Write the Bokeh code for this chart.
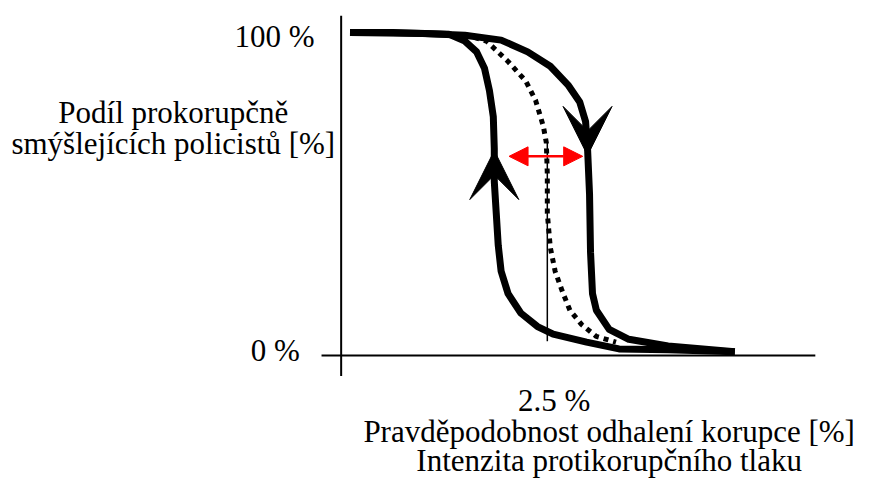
from bokeh.plotting import figure
from bokeh.models import Range1d, Arrow, VeeHead, NormalHead
from bokeh.core.properties import value
from bokeh.embed import file_html
from bokeh.resources import INLINE

# x: probability of detection [%], y: share of pro-corruption officers [%]
falling_x = [0.107, 0.988, 1.5, 1.940, 2.262, 2.536, 2.750, 2.893, 2.964, 2.988,
             3.012, 3.024, 3.048, 3.095, 3.25, 3.488, 3.964, 4.774]
falling_y = [100, 99.7, 99.1, 97.6, 93.9, 89.4, 83.6, 78.2, 72.1, 63.6,
             49.4, 31.2, 18.2, 13.0, 7.0, 3.9, 1.8, 0]

rising_x = [4.774, 3.964, 3.369, 2.976, 2.571, 2.381, 2.179, 2.024, 1.940, 1.905,
            1.881, 1.857, 1.857, 1.845, 1.798, 1.738, 1.643, 1.5, 1.310, 0.631, 0.107]
rising_y = [0, 0.6, 0.9, 3.0, 5.5, 7.9, 12.1, 18.2, 25.2, 33.3,
            43.3, 53.3, 63.6, 73.6, 81.8, 88.8, 93.9, 97.3, 99.4, 100, 100]

middle_x = [1.5, 1.762, 2.024, 2.238, 2.357, 2.452, 2.488, 2.5, 2.5, 2.536,
            2.595, 2.679, 2.774, 2.917, 3.095, 3.333]
middle_y = [99.4, 97.3, 90.9, 84.8, 78.8, 70.6, 65.5, 55.5, 43.3, 32.7,
            25.2, 19.1, 13.0, 8.5, 4.8, 3.0]

threshold_x = [2.5, 2.5]
threshold_y = [65.5, 3.3]

up_arrow = dict(x0=1.857, y0=40, x1=1.857, y1=63.0)
down_arrow = dict(x0=2.988, y0=80, x1=2.988, y1=61.5)
gap_arrow = dict(x0=2.036, x1=2.929, y=61.2)

y_tick_labels = ["100 %", "0 %"]
x_tick_label = "2.5 %"
x_title = ["Pravděpodobnost odhalení korupce [%]", "Intenzita protikorupčního tlaku"]
y_title = ["Podíl prokorupčně", "smýšlejících policistů [%]"]

FONT = value("Liberation Serif")
FS = value("31px")

p = figure(width=861, height=479, output_backend="svg", toolbar_location=None,
           x_range=Range1d(-4.131, 6.310), y_range=Range1d(-40.0, 110.0),
           x_axis_type=None, y_axis_type=None, min_border=0)
p.grid.visible = False
p.outline_line_color = None
p.background_fill_color = "white"
p.border_fill_color = "white"

# axes lines
p.line([0, 0], [105.2, -7.6], line_color="black", line_width=2)
p.line([-0.238, 5.75], [-1.2, -1.2], line_color="black", line_width=2)

# curves
p.line(falling_x, falling_y, line_color="black", line_width=7, line_join="round")
p.line(rising_x, rising_y, line_color="black", line_width=7, line_join="round")
p.line(middle_x, middle_y, line_color="black", line_width=5, line_dash="5 5")
p.line(threshold_x, threshold_y, line_color="black", line_width=1.5)

# direction arrows
for a in (up_arrow, down_arrow):
    p.add_layout(Arrow(end=VeeHead(size=49, fill_color="black", line_color="black", line_width=1),
                       x_start=a["x0"], y_start=a["y0"], x_end=a["x1"], y_end=a["y1"],
                       line_color=None))

p.add_layout(Arrow(start=NormalHead(size=19, fill_color="red", line_color="red"),
                   end=NormalHead(size=19, fill_color="red", line_color="red"),
                   x_start=gap_arrow["x0"], y_start=gap_arrow["y"],
                   x_end=gap_arrow["x1"], y_end=gap_arrow["y"],
                   line_color="red", line_width=2.5))

# texts
p.text(x=[-0.321, -0.5], y=[98.8, 0.3], text=y_tick_labels, text_font=FONT,
       text_font_size=FS, text_align="right", text_baseline="alphabetic", text_color="black")
p.text(x=[2.583], y=[-15.2], text=[x_tick_label], text_font=FONT,
       text_font_size=FS, text_align="center", text_baseline="alphabetic", text_color="black")
p.text(x=[3.25, 3.25], y=[-25.0, -34.0], text=x_title, text_font=FONT,
       text_font_size=FS, text_align="center", text_baseline="alphabetic", text_color="black")
p.text(x=[-2.036, -2.036], y=[74.8, 65.2], text=y_title, text_font=FONT,
       text_font_size=FS, text_align="center", text_baseline="alphabetic", text_color="black")

open("out.html", "w").write(file_html(p, INLINE))
